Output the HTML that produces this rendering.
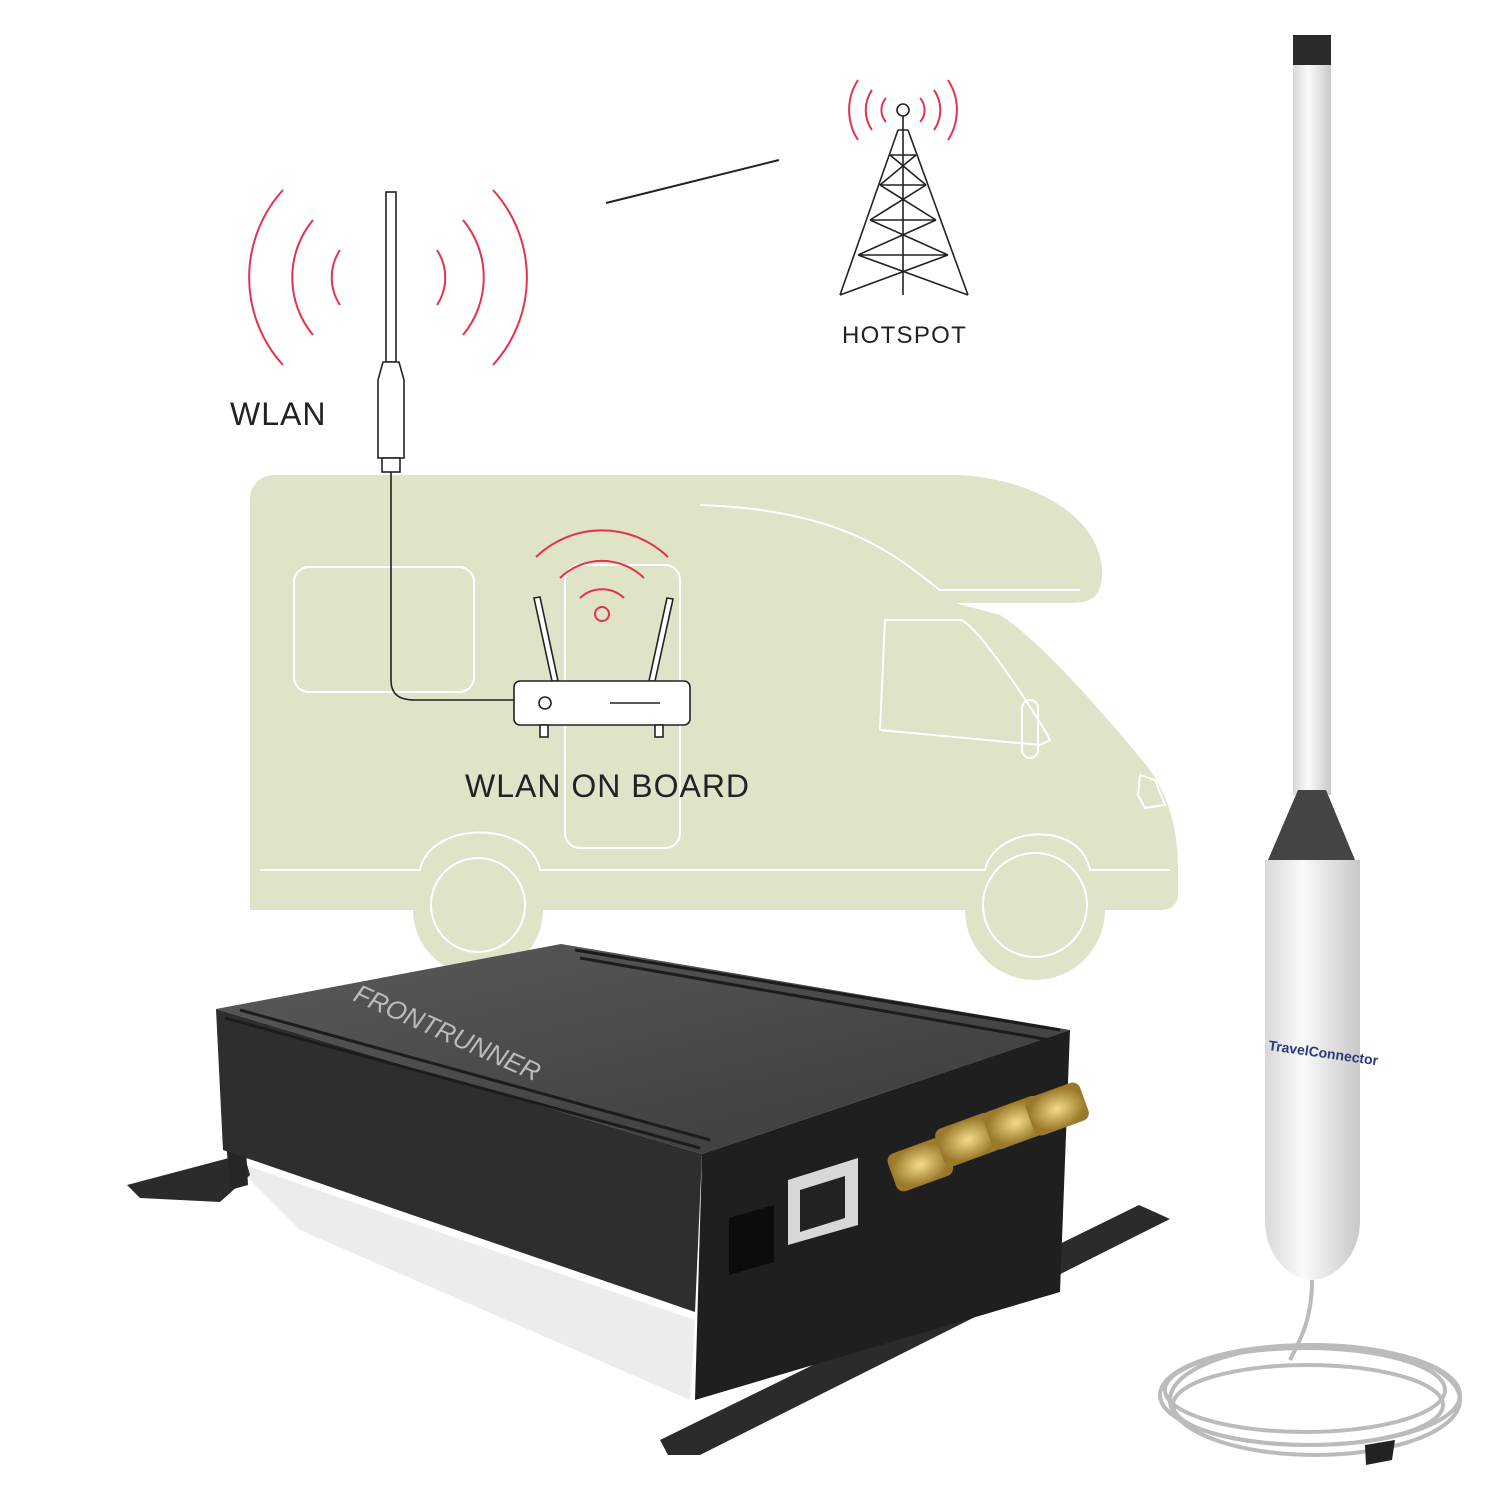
<!DOCTYPE html>
<html><head><meta charset="utf-8"><style>
html,body{margin:0;padding:0;background:#fff;}
svg{display:block}
text{font-family:"Liberation Sans","DejaVu Sans",sans-serif;}
</style></head><body>
<svg width="1500" height="1500" viewBox="0 0 1500 1500" xmlns="http://www.w3.org/2000/svg">
<defs>
<linearGradient id="rod" x1="0" x2="1"><stop offset="0" stop-color="#d8d8d8"/><stop offset="0.4" stop-color="#fafafa"/><stop offset="1" stop-color="#c8c8c8"/></linearGradient>
<linearGradient id="top" x1="0" y1="0" x2="1" y2="1"><stop offset="0" stop-color="#5a5a58"/><stop offset="1" stop-color="#3a3a3a"/></linearGradient>
<radialGradient id="gold"><stop offset="0" stop-color="#f4dc8a"/><stop offset="1" stop-color="#9a7a2a"/></radialGradient>
</defs>
<!-- camper -->
<g fill="#dfe3c8">
<path d="M275 475 H960 C1040 480 1100 520 1102 570 C1103 598 1090 603 1070 603 H955 L1000 615 C1040 640 1110 720 1150 770 C1170 800 1178 830 1178 870 V895 C1178 905 1170 910 1160 910 H250 V500 C250 485 260 475 275 475 Z"/>
<circle cx="478" cy="910" r="65"/>
<circle cx="1035" cy="910" r="70"/>
</g>
<g fill="none" stroke="#fff" stroke-width="2">
<rect x="294" y="567" width="180" height="125" rx="15"/>
<rect x="565" y="565" width="115" height="283" rx="15"/>
<path d="M700 505 C850 510 900 560 940 590 H1080"/>
<path d="M885 620 H960 C975 620 1040 720 1050 740 L1040 745 L880 730 Z"/>
<rect x="1022" y="700" width="16" height="58" rx="8"/>
<path d="M1140 775 L1155 780 L1165 805 L1145 808 L1138 795 Z"/>
<path d="M260 870 H420 C430 820 530 820 540 870 H985 C995 825 1080 820 1090 870 H1170"/>
<circle cx="478" cy="905" r="47"/>
<circle cx="1035" cy="905" r="52"/>
</g>
<!-- WLAN antenna & arcs -->
<g fill="none" stroke="#e5314e" stroke-width="2">
<path d="M283 190 A130 130 0 0 0 283 365"/>
<path d="M313 220 A90 90 0 0 0 313 335"/>
<path d="M340 250 A50 50 0 0 0 340 305"/>
<path d="M493 190 A130 130 0 0 1 493 365"/>
<path d="M463 220 A90 90 0 0 1 463 335"/>
<path d="M437 250 A50 50 0 0 1 437 305"/>
<path d="M536 557 A95 95 0 0 1 668 557"/>
<path d="M560 578 A60 60 0 0 1 644 578"/>
<path d="M580 598 A32 32 0 0 1 624 598"/>
<circle cx="602" cy="614" r="7"/>
</g>
<g fill="#fff" stroke="#222" stroke-width="1.6">
<rect x="386" y="192" width="10" height="170"/>
<path d="M383 362 H399 L404 380 V458 H378 V380 Z"/>
<rect x="382" y="458" width="18" height="14"/>
</g>
<path d="M391 472 V680 C391 695 400 700 415 700 H515" fill="none" stroke="#222" stroke-width="1.6"/>
<!-- router -->
<g fill="#fff" stroke="#222" stroke-width="1.6">
<path d="M534 598 L540 597 L558 681 H552 Z"/>
<path d="M667 598 L673 599 L655 681 H649 Z"/>
<rect x="514" y="681" width="176" height="44" rx="6"/>
<rect x="540" y="725" width="8" height="12"/>
<rect x="655" y="725" width="8" height="12"/>
<circle cx="545" cy="703" r="6"/>
<line x1="610" y1="703" x2="660" y2="703"/>
</g>
<text x="230" y="425" font-size="32" fill="#222" letter-spacing="1">WLAN</text>
<text x="465" y="797" font-size="32" fill="#222" letter-spacing="1">WLAN ON BOARD</text>
<!-- line -->
<line x1="606" y1="203" x2="779" y2="160" stroke="#222" stroke-width="2"/>
<!-- tower -->
<g fill="none" stroke="#e5314e" stroke-width="2">
<path d="M858 80 A55 55 0 0 0 858 140"/><path d="M872 90 A35 35 0 0 0 872 130"/><path d="M886 98 A18 18 0 0 0 886 122"/>
<path d="M948 80 A55 55 0 0 1 948 140"/><path d="M934 90 A35 35 0 0 1 934 130"/><path d="M920 98 A18 18 0 0 1 920 122"/>
</g>
<g fill="none" stroke="#222" stroke-width="1.6">
<circle cx="903" cy="110" r="6"/>
<path d="M903 116 V130 M898 130 L840 295 M908 130 L968 295 M898 130 H908 M890 155 H916 M880 185 H926 M870 220 H936 M858 255 H948 M890 155 L926 185 M916 155 L880 185 M880 185 L936 220 M926 185 L870 220 M870 220 L948 255 M936 220 L858 255 M858 255 L968 295 M948 255 L840 295 M903 130 V295"/>
</g>
<text x="842" y="343" font-size="24" fill="#222" letter-spacing="1.3">HOTSPOT</text>
<!-- device box -->
<path d="M230 1160 L695 1320 L690 1400 L300 1230 Z" fill="#ececec"/>
<path d="M127 1185 L244 1154 L250 1175 L220 1202 L140 1198 Z" fill="#2b2b2b"/>
<path d="M226 1140 L246 1147 L248 1185 L230 1190 Z" fill="#262626"/>
<path d="M660 1440 L1139 1205 L1170 1219 L700 1455 L668 1455 Z" fill="#2b2b2b"/>
<path d="M216 1009 L561 944 L1070 1030 L702 1154 Z" fill="url(#top)"/>
<path d="M216 1009 L702 1154 L695 1312 L223 1150 Z" fill="#2e2e2e"/>
<path d="M702 1154 L1070 1030 L1060 1292 L695 1400 Z" fill="#1f1f1f"/>
<g stroke="#1c1c1c" stroke-width="3">
<line x1="225" y1="1018" x2="700" y2="1148"/><line x1="240" y1="1010" x2="710" y2="1140"/>
<line x1="575" y1="950" x2="1060" y2="1030"/><line x1="580" y1="958" x2="1050" y2="1040"/>
</g>
<text x="352" y="1000" font-size="26" fill="#bbb" font-style="italic" transform="rotate(24 352 1000)">FRONTRUNNER</text>
<g fill="url(#gold)">
<rect x="890" y="1145" width="60" height="40" rx="8" transform="rotate(-20 919 1164)"/>
<rect x="938" y="1120" width="60" height="40" rx="8" transform="rotate(-20 967 1140)"/>
<rect x="986" y="1103" width="60" height="40" rx="8" transform="rotate(-20 1015 1123)"/>
<rect x="1028" y="1089" width="58" height="40" rx="8" transform="rotate(-20 1057 1109)"/>
</g>
<path d="M788 1180 L858 1158 L858 1225 L788 1245 Z" fill="#d8d8d8"/>
<path d="M800 1190 L845 1176 L845 1218 L800 1232 Z" fill="#222"/>
<path d="M729 1218 L774 1205 L774 1262 L729 1275 Z" fill="#0c0c0c"/>
<!-- right antenna -->
<rect x="1293" y="35" width="38" height="760" fill="url(#rod)"/>
<rect x="1293" y="35" width="38" height="30" fill="#2a2a2a"/>
<path d="M1298 790 H1326 L1355 860 H1268 Z" fill="#444"/>
<path d="M1265 860 H1360 V1220 C1360 1260 1330 1280 1312 1280 C1294 1280 1265 1260 1265 1220 Z" fill="url(#rod)"/>
<text x="1268" y="1050" font-size="14" font-weight="bold" fill="#2a3a7a" transform="rotate(8 1268 1050)">TravelConnector</text>
<g fill="none" stroke="#bbb" stroke-width="4">
<ellipse cx="1310" cy="1395" rx="150" ry="50"/>
<ellipse cx="1305" cy="1390" rx="140" ry="42"/>
<ellipse cx="1315" cy="1400" rx="145" ry="55"/>
<ellipse cx="1308" cy="1405" rx="135" ry="40"/>
<path d="M1312 1280 C1312 1320 1300 1340 1290 1360"/>
</g>
<path d="M1365 1445 L1395 1440 L1392 1460 L1366 1465 Z" fill="#222"/>
</svg>
</body></html>
